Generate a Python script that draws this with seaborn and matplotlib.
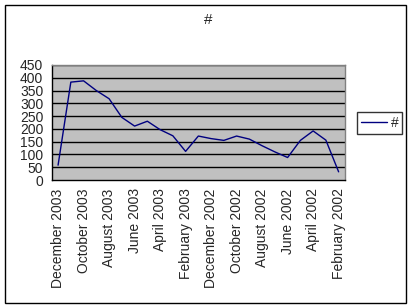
import matplotlib
matplotlib.use("Agg")
import matplotlib.pyplot as plt
import seaborn as sns
import pandas as pd
from matplotlib.patches import Rectangle

months = ["December 2003", "November 2003", "October 2003", "September 2003",
          "August 2003", "July 2003", "June 2003", "May 2003", "April 2003",
          "March 2003", "February 2003", "January 2003", "December 2002",
          "November 2002", "October 2002", "September 2002", "August 2002",
          "July 2002", "June 2002", "May 2002", "April 2002", "March 2002",
          "February 2002"]
values = [58, 383, 388, 350, 318, 245, 211, 230, 197, 173, 112, 172, 162,
          155, 172, 160, 134, 110, 88, 155, 192, 156, 32]
yticks = [0, 50, 100, 150, 200, 250, 300, 350, 400, 450]

df = pd.DataFrame({"pos": range(len(months)), "month": months, "value": values})

sns.set_style("white")
plt.rcParams["font.family"] = ["Liberation Sans", "DejaVu Sans"]

W, H = 412, 308
fig = plt.figure(figsize=(W / 100, H / 100), dpi=100)
fig.patch.set_facecolor("white")
ax = fig.add_axes([51.7 / W, 1 - 180 / H, (345 - 51.7) / W, 115 / H])
ax.set_facecolor("#C0C0C0")

sns.lineplot(data=df, x="pos", y="value", ax=ax, color="#000080", linewidth=1.0,
             label="#", legend=False)

ax.set_xlim(-0.5, len(months) - 0.5)
ax.set_ylim(0, 450)
ax.set_yticks(yticks)
ax.set_yticklabels([str(v) for v in yticks], fontsize=10)
for v in yticks[1:]:
    ax.axhline(v, color="black", linewidth=1.0, zorder=1)

ax.set_xticks(list(range(0, len(months), 2)))
ax.set_xticklabels(months[::2], rotation=90, fontsize=10)
ax.set_xticks([k - 0.5 for k in range(len(months) + 1)], minor=True)
ax.tick_params(axis="x", which="major", length=0, pad=6)
ax.tick_params(axis="x", which="minor", length=4, width=1, color="black", direction="out")
ax.tick_params(axis="y", which="major", length=4, width=1, color="black", direction="out", pad=2)
ax.set_xlabel("")
ax.set_ylabel("")

for side in ["top", "right"]:
    ax.spines[side].set_color("#808080")
    ax.spines[side].set_linewidth(1.0)
for side in ["left", "bottom"]:
    ax.spines[side].set_color("black")
    ax.spines[side].set_linewidth(1.0)

fig.text(208 / W, 1 - 20 / H, "#", ha="center", va="center", fontsize=11)

handles, labels = ax.get_legend_handles_labels()
leg = fig.legend(handles, labels, loc="center", bbox_to_anchor=(379.5 / W, 1 - 123 / H),
                 frameon=True, fancybox=False, edgecolor="black", fontsize=10,
                 handlelength=1.9, handletextpad=0.25, borderpad=0.3, borderaxespad=0)
leg.get_frame().set_linewidth(1.0)

fig.add_artist(Rectangle((5 / W, 1 - 303 / H), 401 / W, 298 / H, transform=fig.transFigure,
                         fill=False, edgecolor="black", linewidth=1.0))

fig.savefig("out.png", dpi=100)
